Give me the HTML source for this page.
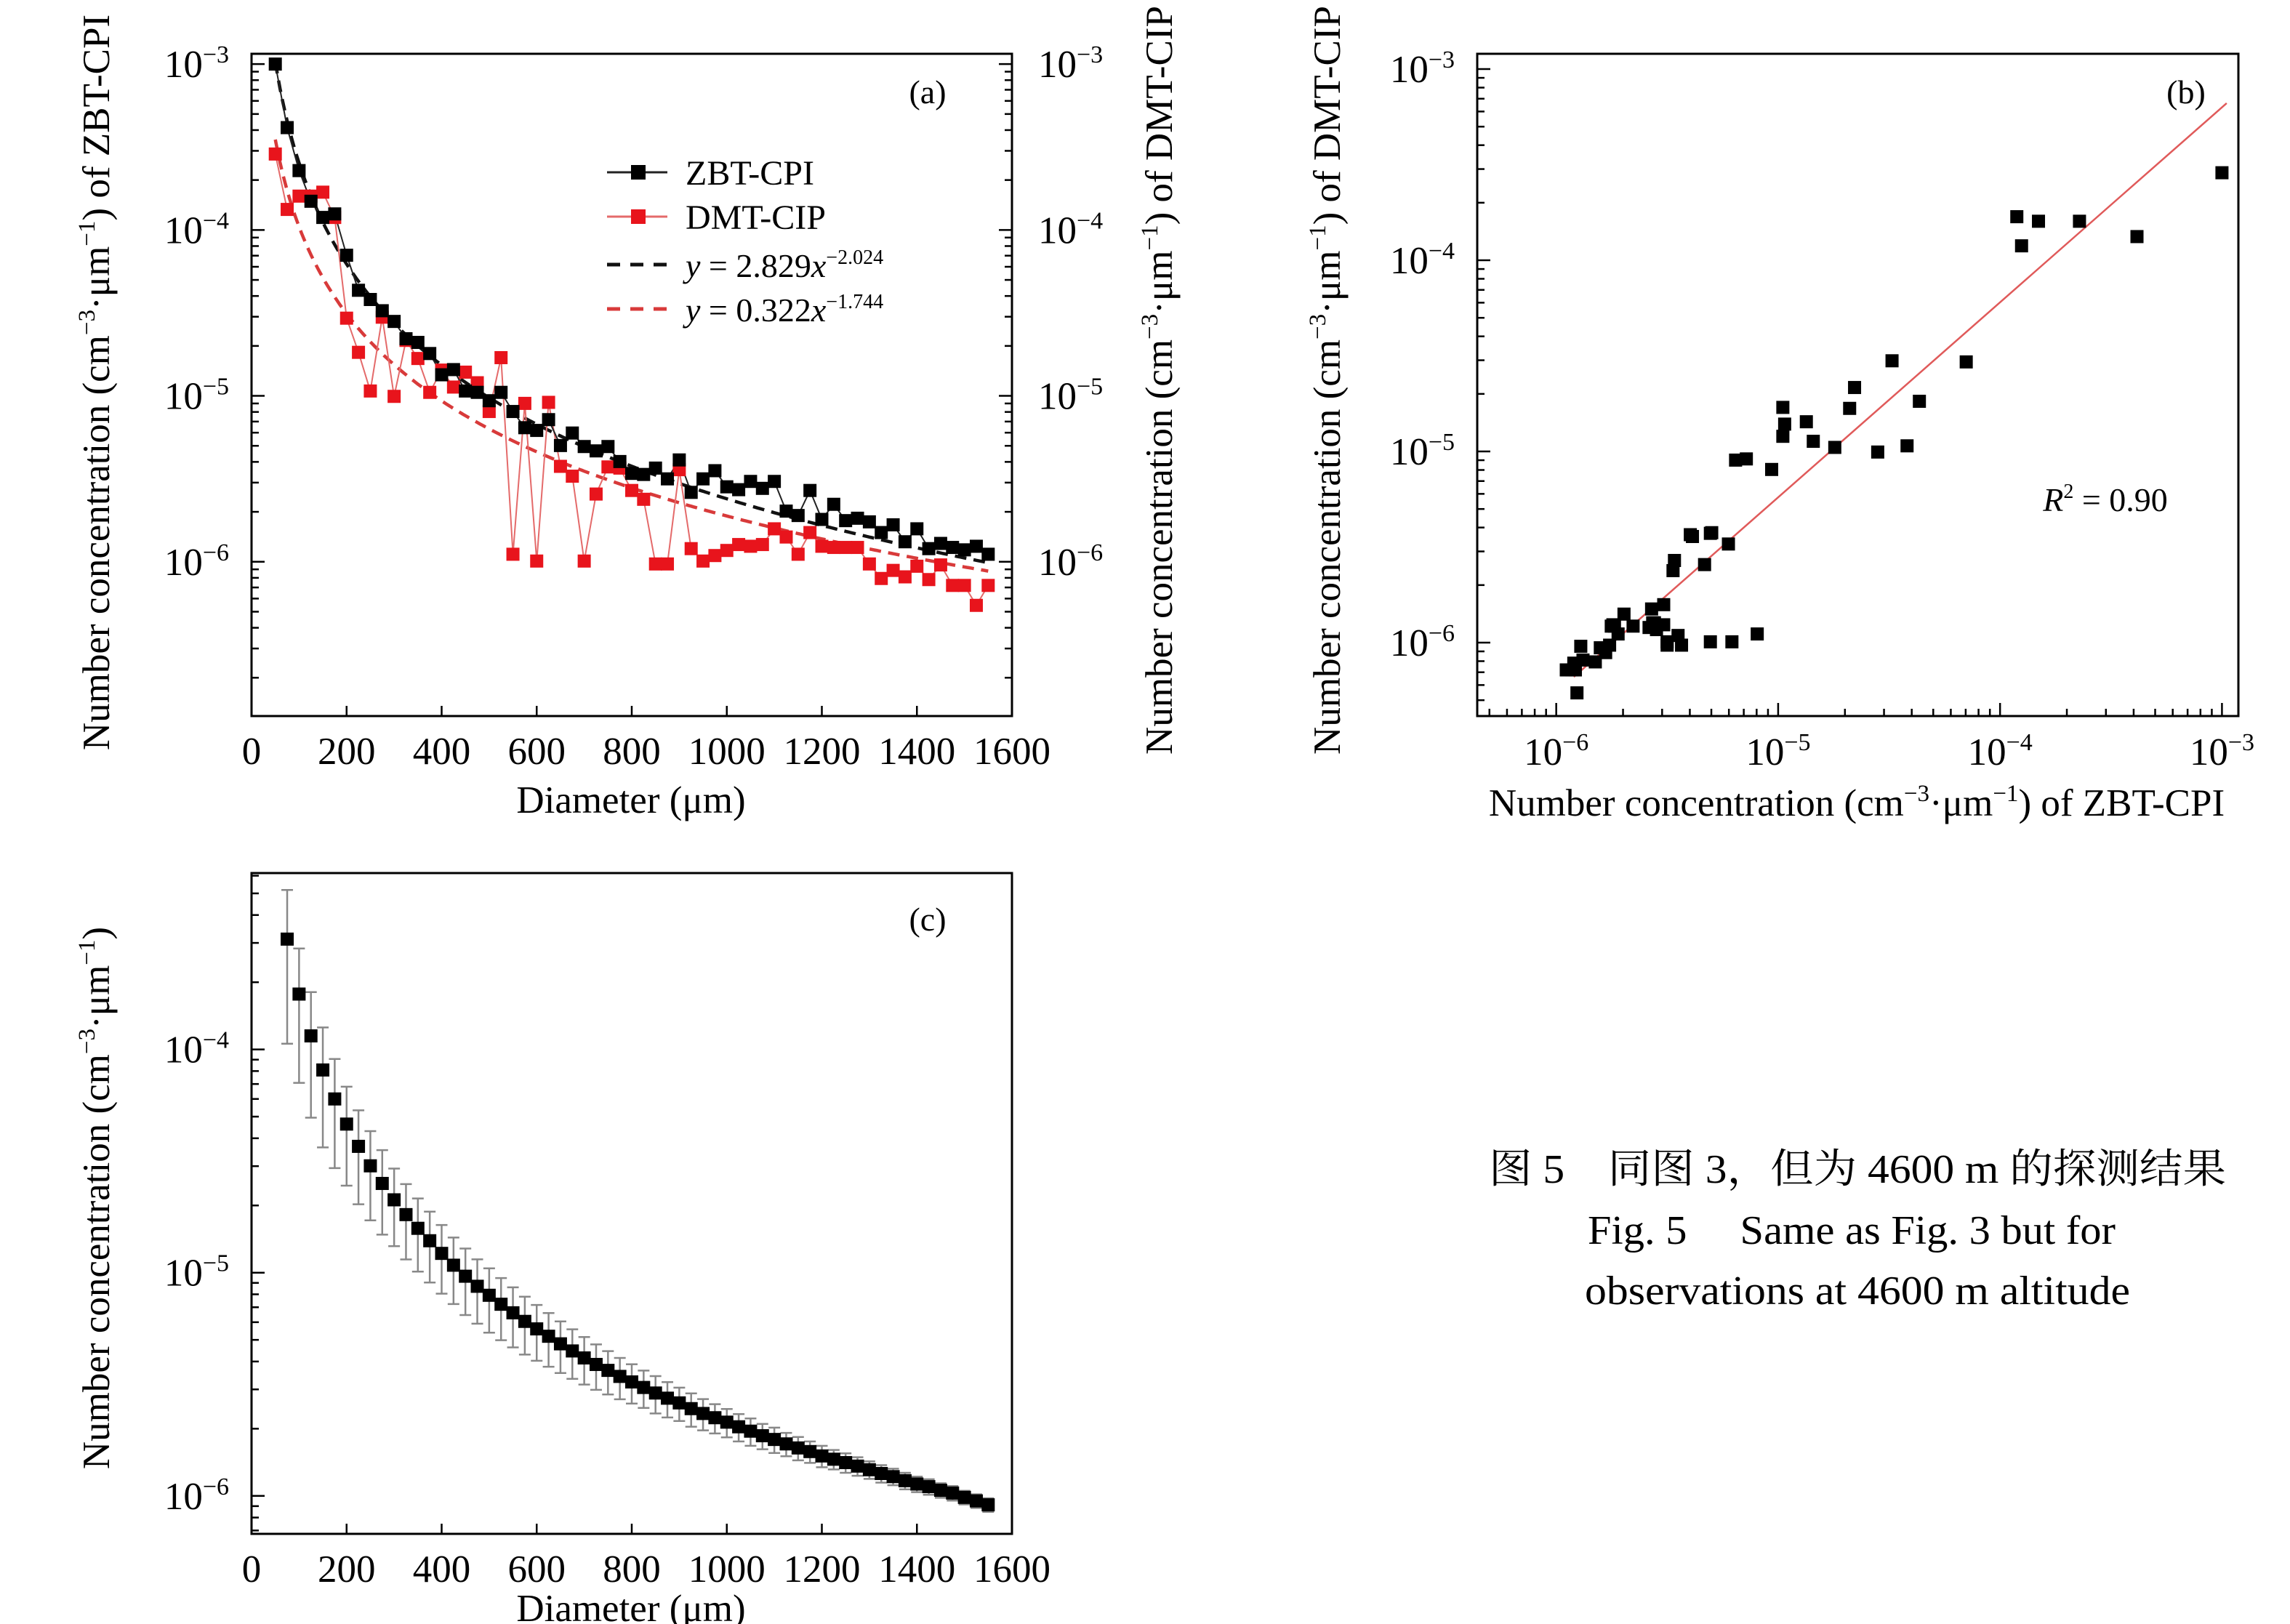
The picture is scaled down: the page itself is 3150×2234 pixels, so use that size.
<!DOCTYPE html>
<html><head><meta charset="utf-8">
<style>
html,body{margin:0;padding:0;background:#fff;}
svg{display:block;font-family:"Liberation Serif","Noto Serif CJK SC",serif;}
</style></head>
<body>
<svg id="fig" xmlns="http://www.w3.org/2000/svg" width="3150" height="2234" viewBox="0 0 3150 2234">
<rect width="3150" height="2234" fill="#fff"/>
</svg>
<script>
// ---- data ----
const diameters = [50,75,100,125,150,175,200,225,250,275,300,325,350,375,400,425,450,475,500,525,550,575,600,625,650,675,700,725,750,775,800,825,850,875,900,925,950,975,1000,1025,1050,1075,1100,1125,1150,1175,1200,1225,1250,1275,1300,1325,1350,1375,1400,1425,1450,1475,1500,1525,1550];
const zbtValues = [1.0e-3,4.14e-4,2.28e-4,1.49e-4,1.19e-4,1.25e-4,7.04e-5,4.33e-5,3.81e-5,3.26e-5,2.81e-5,2.21e-5,2.10e-5,1.80e-5,1.34e-5,1.44e-5,1.07e-5,1.05e-5,9.35e-6,1.05e-5,8.05e-6,6.43e-6,6.19e-6,7.19e-6,5.02e-6,5.97e-6,4.95e-6,4.66e-6,4.95e-6,4.02e-6,3.41e-6,3.36e-6,3.67e-6,3.16e-6,4.11e-6,2.62e-6,3.16e-6,3.54e-6,2.83e-6,2.72e-6,3.05e-6,2.77e-6,3.05e-6,2.02e-6,1.90e-6,2.69e-6,1.80e-6,2.22e-6,1.77e-6,1.83e-6,1.74e-6,1.50e-6,1.67e-6,1.32e-6,1.58e-6,1.20e-6,1.29e-6,1.22e-6,1.18e-6,1.24e-6,1.11e-6];
const dmtValues = [2.87e-4,1.33e-4,1.60e-4,1.60e-4,1.69e-4,1.19e-4,2.94e-5,1.83e-5,1.07e-5,2.98e-5,9.93e-6,2.16e-5,1.68e-5,1.05e-5,1.43e-5,1.13e-5,1.39e-5,1.20e-5,8.05e-6,1.70e-5,1.11e-6,9.01e-6,1.01e-6,9.14e-6,3.76e-6,3.28e-6,1.01e-6,2.56e-6,3.73e-6,3.67e-6,2.69e-6,2.38e-6,9.7e-7,9.7e-7,3.59e-6,1.20e-6,1.01e-6,1.09e-6,1.17e-6,1.27e-6,1.24e-6,1.27e-6,1.58e-6,1.41e-6,1.11e-6,1.50e-6,1.24e-6,1.22e-6,1.22e-6,1.22e-6,9.7e-7,7.93e-7,8.87e-7,8.11e-7,9.4e-7,7.81e-7,9.57e-7,7.2e-7,7.2e-7,5.46e-7,7.2e-7];
const fitZbt = [2.829, -2.024];
const fitDmt = [0.322, -1.744];
const regressionB = [1.02, -0.14]; // log10(y) = a*log10(x) + b
const regressionRange = [1.2e-6, 1.05e-3];
const meanDiameters = [75,100,125,150,175,200,225,250,275,300,325,350,375,400,425,450,475,500,525,550,575,600,625,650,675,700,725,750,775,800,825,850,875,900,925,950,975,1000,1025,1050,1075,1100,1125,1150,1175,1200,1225,1250,1275,1300,1325,1350,1375,1400,1425,1450,1475,1500,1525,1550];
const meanValues = [3.12e-4,1.77e-4,1.15e-4,8.09e-5,6.0e-5,4.63e-5,3.68e-5,3.01e-5,2.51e-5,2.12e-5,1.82e-5,1.58e-5,1.39e-5,1.22e-5,1.08e-5,9.64e-6,8.69e-6,7.92e-6,7.22e-6,6.61e-6,6.05e-6,5.6e-6,5.19e-6,4.8e-6,4.46e-6,4.15e-6,3.88e-6,3.65e-6,3.43e-6,3.24e-6,3.06e-6,2.89e-6,2.74e-6,2.61e-6,2.46e-6,2.34e-6,2.24e-6,2.14e-6,2.04e-6,1.95e-6,1.86e-6,1.79e-6,1.71e-6,1.64e-6,1.58e-6,1.51e-6,1.46e-6,1.41e-6,1.36e-6,1.31e-6,1.26e-6,1.22e-6,1.17e-6,1.13e-6,1.10e-6,1.06e-6,1.03e-6,9.85e-7,9.5e-7,9.12e-7];
const relErrors = [.66,.6,.57,.55,.51,.47,.45,.43,.41,.38,.37,.36,.35,.34,.33,.33,.32,.32,.31,.30,.29,.28,.27,.26,.25,.24,.23,.22,.21,.20,.19,.19,.18,.17,.17,.16,.15,.145,.14,.14,.13,.13,.12,.12,.11,.11,.10,.10,.095,.09,.09,.085,.085,.08,.08,.075,.075,.07,.07,.07];
const xTicksLin = [0,200,400,600,800,1000,1200,1400,1600];

// ---- helpers ----
const NS="http://www.w3.org/2000/svg";
const svg=document.getElementById('fig');
function mk(tag,attrs,parent){const e=document.createElementNS(NS,tag);for(const k in attrs)e.setAttribute(k,attrs[k]);(parent||svg).appendChild(e);return e;}
function linScale(d0,d1,r0,r1){return v=>r0+(v-d0)/(d1-d0)*(r1-r0);}
function logScale(l0,l1,r0,r1){return v=>r0+(Math.log10(v)-l0)/(l1-l0)*(r1-r0);}
function powLabel(parent,x,y,exp,anchor){
  const t=mk('text',{x:x,y:y,'font-size':53,'text-anchor':anchor||'start',fill:'#000'},parent);
  
  
  const a=document.createElementNS(NS,'tspan');a.textContent='10';t.appendChild(a);
  const b=document.createElementNS(NS,'tspan');b.setAttribute('dy','-20');b.setAttribute('font-size','34');b.textContent='\u2212'+exp;t.appendChild(b);
  return t;
}
function unitTitle(parent,x,y,rot,suffix){
  const t=mk('text',{x:0,y:0,'font-size':53,'text-anchor':'middle',fill:'#000',transform:`translate(${x},${y}) rotate(${rot})`},parent);
  const parts=[['Number concentration (cm',0,53],['\u22123',-20,33],['\u00b7\u03bcm',20,53],['\u22121',-20,33],[')'+suffix,20,53]];
  parts.forEach(p=>{const s=document.createElementNS(NS,'tspan');s.setAttribute('dy',p[1]);s.setAttribute('font-size',p[2]);s.textContent=p[0];t.appendChild(s);});
  return t;
}
function frame(g,L,T,R,B){mk('rect',{x:L,y:T,width:R-L,height:B-T,fill:'none',stroke:'#000','stroke-width':3},g);}
function logYTicks(g,ys,l0,l1,x,dir,labels,lx,anchor){
  for(let d=Math.floor(l0);d<=Math.ceil(l1);d++){
    for(let m=1;m<10;m++){const v=m*Math.pow(10,d);const lv=Math.log10(v);if(lv<l0-1e-9||lv>l1+1e-9)continue;
      const y=ys(v);const len=m===1?18:10;mk('line',{x1:x,y1:y,x2:x+dir*len,y2:y,stroke:'#000','stroke-width':2.5},g);
      if(m===1&&labels)powLabel(g,lx,y+18,-d,anchor);}
  }
}
function logXTicks(g,xs,l0,l1,y,labels){
  for(let d=Math.floor(l0);d<=Math.ceil(l1);d++){
    for(let m=1;m<10;m++){const v=m*Math.pow(10,d);const lv=Math.log10(v);if(lv<l0-1e-9||lv>l1+1e-9)continue;
      const x=xs(v);const len=m===1?18:10;mk('line',{x1:x,y1:y,x2:x,y2:y-len,stroke:'#000','stroke-width':2.5},g);
      if(m===1&&labels){powLabel(g,x,1052,-d,'middle');}}
  }
}
function linXTicks(g,xs,y){
  xTicksLin.forEach(v=>{const x=xs(v);mk('line',{x1:x,y1:y,x2:x,y2:y-14,stroke:'#000','stroke-width':2.5},g);
    const t=mk('text',{x:x,y:y+66,'font-size':53,'text-anchor':'middle',fill:'#000'},g);
    
    
    t.textContent=v;});
}
function square(g,x,y,fill,name){const r=mk('rect',{x:x-9,y:y-9,width:18,height:18,fill:fill},g);
  
  }

// ---- panel (a) ----
(function(){
  const L=346,R=1392,T=74,B=985,l0=-6.93,l1=-2.938;
  const g=mk('g',{});
  const xs=linScale(0,1600,L,R), ys=logScale(l0,l1,B,T);
  [[fitZbt,'#111','fit-line-zbt'],[fitDmt,'#d83a3a','fit-line-dmt']].forEach(f=>{
    let d='';for(let x=50;x<=1550;x+=5){const y=f[0][0]*Math.pow(x,f[0][1]);d+=(x===50?'M':'L')+xs(x).toFixed(1)+','+ys(y).toFixed(1);}
    const p=mk('path',{d:d,fill:'none',stroke:f[1],'stroke-width':4.5,'stroke-dasharray':'16 10'},g);
    
  });
  [[dmtValues,'#e46a6a','dmt-line'],[zbtValues,'#222','zbt-line']].forEach(s=>{
    const pts=diameters.map((d,i)=>xs(d).toFixed(1)+','+ys(s[0][i]).toFixed(1)).join(' ');
    const p=mk('polyline',{points:pts,fill:'none',stroke:s[1],'stroke-width':2},g);
    
  });
  diameters.forEach((d,i)=>square(g,xs(d),ys(dmtValues[i]),'#e8141c','dmt-point'));
  diameters.forEach((d,i)=>square(g,xs(d),ys(zbtValues[i]),'#000','zbt-point'));
  frame(g,L,T,R,B);
  logYTicks(g,ys,l0,l1,L,1,true,315,'end');
  logYTicks(g,ys,l0,l1,R,-1,false);
  for(let e=3;e<=6;e++){powLabel(g,1428,ys(Math.pow(10,-e))+18,e,'start');}
  linXTicks(g,xs,B);
  const xt=mk('text',{x:868,y:1118,'font-size':53,'text-anchor':'middle'},g);xt.textContent='Diameter (\u03bcm)';
  
  const yt=unitTitle(g,150,526,-90,' of ZBT-CPI');
  const yt2=unitTitle(g,1612,523,-90,' of DMT-CIP');
  const lab=mk('text',{x:1276,y:142,'font-size':46,'text-anchor':'middle'},g);lab.textContent='(a)';
  
  const lg=mk('g',{},g);
  const rows=[[237,'ZBT-CPI','#222','#000',false],[298,'DMT-CIP','#e46a6a','#e8141c',false],[364,'','#111',null,true],[425,'','#d83a3a',null,true]];
  rows.forEach(r=>{
    if(r[4]){mk('line',{x1:835,y1:r[0],x2:920,y2:r[0],stroke:r[2],'stroke-width':5,'stroke-dasharray':'18 14'},lg);}
    else{mk('line',{x1:835,y1:r[0],x2:918,y2:r[0],stroke:r[2],'stroke-width':3},lg);
      mk('rect',{x:868,y:r[0]-10,width:20,height:20,fill:r[3]},lg);}
    if(r[1]){const t=mk('text',{x:943,y:r[0]+17,'font-size':48},lg);t.textContent=r[1];
      }
  });
  [[364,'2.829','2.024'],[425,'0.322','1.744']].forEach(r=>{
    const t=mk('text',{x:943,y:r[0]+17,'font-size':46},lg);
    
    const a=document.createElementNS(NS,'tspan');a.setAttribute('font-style','italic');a.textContent='y';t.appendChild(a);
    const b=document.createElementNS(NS,'tspan');b.textContent=' = '+r[1];t.appendChild(b);
    const c=document.createElementNS(NS,'tspan');c.setAttribute('font-style','italic');c.textContent='x';t.appendChild(c);
    const e=document.createElementNS(NS,'tspan');e.setAttribute('dy','-18');e.setAttribute('font-size','28');e.textContent='\u2212'+r[2];t.appendChild(e);
  });
})();

// ---- panel (b) ----
(function(){
  const L=2032,R=3079,T=74,B=985,xl0=-6.356,xl1=-2.926,yl0=-6.384,yl1=-2.92;
  const g=mk('g',{});
  const xs=logScale(xl0,xl1,L,R), ys=logScale(yl0,yl1,B,T);
  const x0=regressionRange[0],x1=regressionRange[1];
  const f=x=>Math.pow(10,regressionB[0]*Math.log10(x)+regressionB[1]);
  const rl=mk('line',{x1:xs(x0),y1:ys(f(x0)),x2:xs(x1),y2:ys(f(x1)),stroke:'#e05a5a','stroke-width':2.5},g);
  
  diameters.forEach((d,i)=>square(g,xs(zbtValues[i]),ys(dmtValues[i]),'#000','scatter-point'));
  frame(g,L,T,R,B);
  logYTicks(g,ys,yl0,yl1,L,1,true,2001,'end');
  logXTicks(g,xs,xl0,xl1,B,true);
  const xt=unitTitle(g,2554,1122,0,' of ZBT-CPI');
  const yt=unitTitle(g,1843,523,-90,' of DMT-CIP');
  const lab=mk('text',{x:3007,y:142,'font-size':46,'text-anchor':'middle'},g);lab.textContent='(b)';
  
  const r2=mk('text',{x:2896,y:703,'font-size':46,'text-anchor':'middle'},g);
  
  const a=document.createElementNS(NS,'tspan');a.setAttribute('font-style','italic');a.textContent='R';r2.appendChild(a);
  const b=document.createElementNS(NS,'tspan');b.setAttribute('dy','-18');b.setAttribute('font-size','28');b.textContent='2';r2.appendChild(b);
  const c=document.createElementNS(NS,'tspan');c.setAttribute('dy','18');c.textContent=' = 0.90';r2.appendChild(c);
})();

// ---- panel (c) ----
(function(){
  const L=346,R=1392,T=1201,B=2110,l0=-6.17,l1=-3.21;
  const g=mk('g',{});
  const xs=linScale(0,1600,L,R), ys=logScale(l0,l1,B,T);
  meanDiameters.forEach((d,i)=>{
    const m=meanValues[i],e=m*relErrors[i];const x=xs(d);
    const eb=mk('g',{},g);
    mk('line',{x1:x,y1:ys(m+e),x2:x,y2:ys(m-e),stroke:'#888','stroke-width':2.5},eb);
    mk('line',{x1:x-8,y1:ys(m+e),x2:x+8,y2:ys(m+e),stroke:'#888','stroke-width':2.5},eb);
    mk('line',{x1:x-8,y1:ys(m-e),x2:x+8,y2:ys(m-e),stroke:'#888','stroke-width':2.5},eb);
  });
  meanDiameters.forEach((d,i)=>square(g,xs(d),ys(meanValues[i]),'#000','mean-point'));
  frame(g,L,T,R,B);
  logYTicks(g,ys,l0,l1,L,1,true,315,'end');
  linXTicks(g,xs,B);
  const xt=mk('text',{x:868,y:2230,'font-size':53,'text-anchor':'middle'},g);xt.textContent='Diameter (\u03bcm)';
  
  const yt=unitTitle(g,150,1648,-90,'');
  const lab=mk('text',{x:1276,y:1280,'font-size':46,'text-anchor':'middle'},g);lab.textContent='(c)';
  
})();

// ---- caption ----
(function(){
  const g=mk('g',{});
  [[2048,1627,1014,'图 5\u3000同图 3，但为 4600 m 的探测结果'],[2184,1711,726,'Fig. 5\u3000 Same as Fig. 3 but for'],[2180,1794,750,'observations at 4600 m altitude']].forEach(r=>{
    const t=mk('text',{x:r[0],y:r[1],'font-size':56,textLength:r[2],lengthAdjust:'spacingAndGlyphs'},g);
    
    t.textContent=r[3];
  });
})();
</script>
</body></html>
